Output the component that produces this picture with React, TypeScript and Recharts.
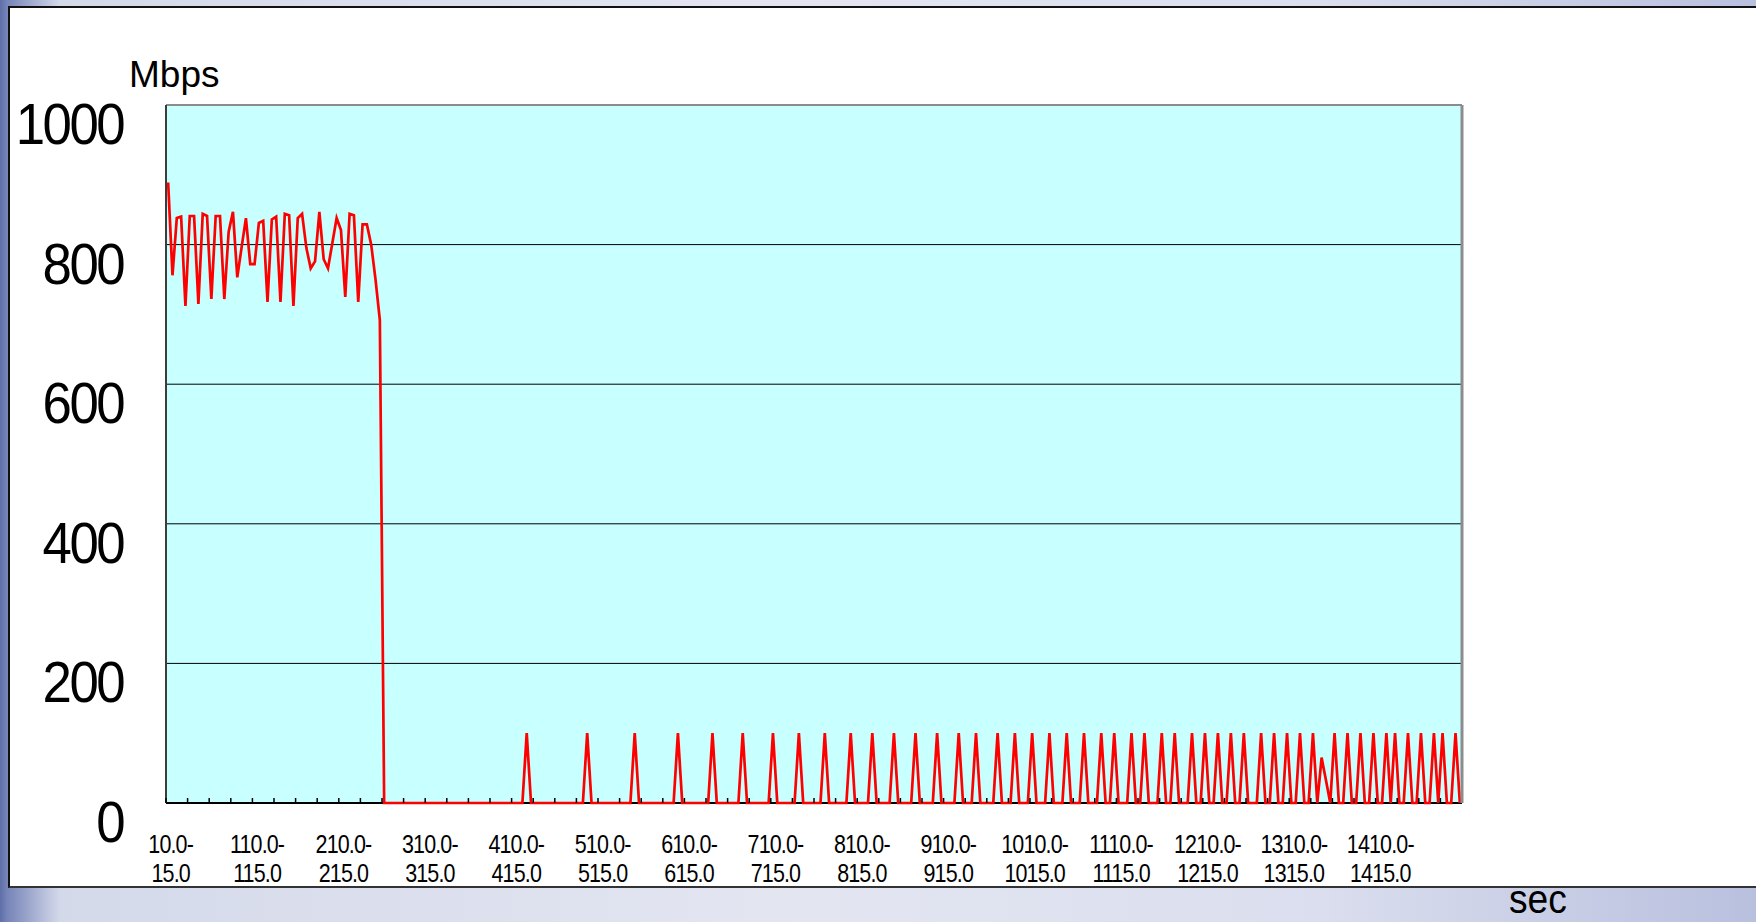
import { LineChart, Line, XAxis, YAxis, CartesianGrid } from "recharts";

const W = 1756;
const H = 922;
const PLOT_LEFT = 166;
const PLOT_TOP = 105;
const PLOT_RIGHT = 1462;
const PLOT_BOTTOM = 803;
const FONT = '"Liberation Sans", Arial, sans-serif';

// 5-second bins from 10.0-15.0 up to 1505.0-1510.0
const binStarts = Array.from({ length: 300 }, (_, i) => 10 + i * 5);
const STEP = (PLOT_RIGHT - PLOT_LEFT) / binStarts.length;

// throughput in the first 50 bins (10.0 .. 255.0), before the link collapses
const burstMbps = [
  889, 756, 838, 840, 712, 841, 841, 715, 844, 841,
  722, 841, 841, 722, 818, 847, 753, 796, 838, 772,
  772, 831, 834, 718, 836, 840, 718, 844, 842, 712,
  838, 844, 795, 766, 776, 847, 779, 766, 802, 838,
  821, 725, 844, 842, 718, 829, 829, 800, 750, 692,
];

// bins (by start second) that show a short 100 Mbps burst afterwards
const spikeSec = [
  425, 495, 550, 600, 640, 675, 710, 740, 770, 800,
  825, 850, 875, 900, 925, 945, 970, 990, 1010, 1030,
  1050, 1070, 1090, 1105, 1125, 1140, 1160, 1175, 1195, 1210,
  1225, 1240, 1255, 1275, 1290, 1305, 1320, 1335, 1360, 1375,
  1390, 1405, 1420, 1430, 1445, 1460, 1475, 1485, 1500,
];
const spikeMbps = 100;

// the one burst that did not reach full height
const partialSpikes: [number, number][] = [
  [1345, 65],
  [1350, 33],
];

const yTicks = [0, 200, 400, 600, 800, 1000];

const spikeMap = new Map<number, number>(spikeSec.map((s) => [s, spikeMbps]));
partialSpikes.forEach(([s, v]) => spikeMap.set(s, v));

const data = binStarts.map((s, i) => ({
  range: `${s}.0-${s + 5}.0`,
  mbps: i < burstMbps.length ? burstMbps[i] : spikeMap.get(s) ?? 0,
}));

const XTick = (props: any) => {
  const { x, y, index, payload } = props;
  const [from, to] = String(payload.value).split("-");
  const edge = x - STEP / 2;
  return (
    <g>
      {index % 5 === 0 && (
        <line x1={edge} x2={edge} y1={y} y2={y - 5} stroke="#000" strokeWidth={1.5} />
      )}
      {index % 20 === 0 && (
        <g transform={`translate(${x + 2.5} ${y}) scale(0.86 1)`}>
          <text y={50} textAnchor="middle" fontSize={25} letterSpacing={-1} fill="#000" fontFamily={FONT}>
            {from}-
          </text>
          <text y={79} textAnchor="middle" fontSize={25} letterSpacing={-1} fill="#000" fontFamily={FONT}>
            {to}
          </text>
        </g>
      )}
    </g>
  );
};

const YTick = (props: any) => {
  const { x, y, payload } = props;
  return (
    <text
      transform={`translate(${x - 43} ${y + 39}) scale(0.91 1)`}
      textAnchor="end"
      fontSize={58}
      letterSpacing={-2.8}
      fill="#000"
      fontFamily={FONT}
    >
      {payload.value}
    </text>
  );
};

const gridLine = (p: any) => {
  const top = Math.abs(p.y1 - PLOT_TOP) < 1;
  const bottom = Math.abs(p.y1 - PLOT_BOTTOM) < 1;
  return (
    <line
      key={`h-${p.index}`}
      x1={p.x1}
      x2={p.x2}
      y1={p.y1}
      y2={p.y2}
      stroke={top ? "#8c8c8c" : "#000"}
      strokeWidth={top || bottom ? 2 : 1}
    />
  );
};

export default function App() {
  return (
    <div
      style={{
        position: "absolute",
        left: 0,
        top: 0,
        width: W,
        height: H,
        overflow: "hidden",
        background:
          "linear-gradient(90deg, #5e6fa8 0px, #7684b8 7px, #d4d9ea 60px, #e3e6f1 45%, #dadeee 75%, #b9c0de 100%)",
        fontFamily: FONT,
      }}
    >
      <div
        style={{
          position: "absolute",
          left: 8,
          top: 6,
          right: -4,
          height: 882,
          boxSizing: "border-box",
          background: "#fff",
          borderLeft: "2px solid #111",
          borderTop: "2px solid #111",
          borderBottom: "2px solid #333",
        }}
      />
      <div style={{ position: "absolute", left: 0, top: 0 }}>
        <LineChart
          width={W}
          height={H}
          data={data}
          margin={{ top: PLOT_TOP, right: W - PLOT_RIGHT - 1, bottom: 0, left: 0 }}
        >
          <CartesianGrid fill="#c8ffff" vertical={false} horizontal={gridLine} />
          <XAxis
            dataKey="range"
            interval={0}
            height={H - PLOT_BOTTOM}
            padding={{ left: STEP / 2, right: STEP / 2 }}
            axisLine={false}
            tickLine={false}
            tickSize={0}
            tickMargin={0}
            tick={<XTick />}
          />
          <YAxis
            domain={[0, 1000]}
            ticks={yTicks}
            width={PLOT_LEFT}
            axisLine={{ stroke: "#3c3c3c", strokeWidth: 2 }}
            tickLine={false}
            tickSize={0}
            tickMargin={0}
            tick={<YTick />}
          />
          <YAxis
            yAxisId="frame"
            orientation="right"
            domain={[0, 1000]}
            width={1}
            tick={false}
            tickLine={false}
            axisLine={{ stroke: "#8c8c8c", strokeWidth: 3 }}
          />
          <Line
            type="linear"
            dataKey="mbps"
            stroke="#ff0000"
            strokeWidth={2.7}
            dot={false}
            activeDot={false}
            isAnimationActive={false}
          />
        </LineChart>
      </div>
      <div style={{ position: "absolute", left: 129, top: 56, fontSize: 37, lineHeight: "37px", color: "#000" }}>
        Mbps
      </div>
      <div
        style={{
          position: "absolute",
          left: 1509,
          top: 884,
          fontSize: 40,
          lineHeight: "30px",
          color: "#000",
          transform: "scaleX(0.93)",
          transformOrigin: "left top",
        }}
      >
        sec
      </div>
    </div>
  );
}
